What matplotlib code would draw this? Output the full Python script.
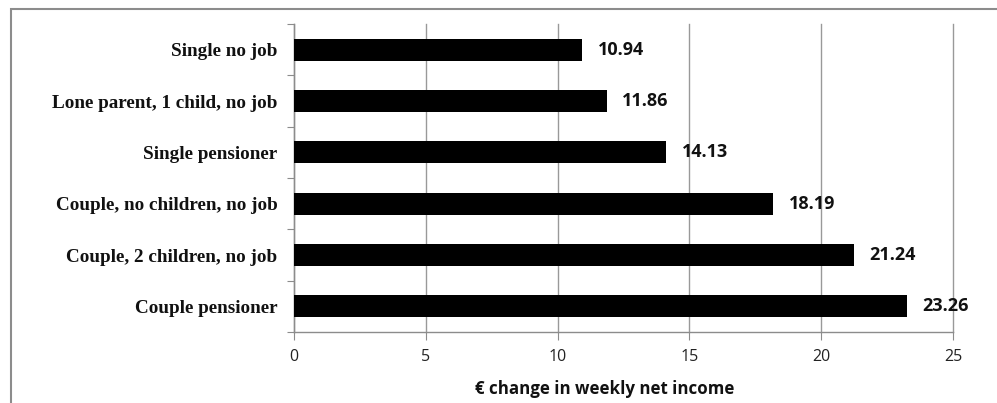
import matplotlib
matplotlib.use("Agg")
import matplotlib.pyplot as plt
from matplotlib.patches import Rectangle

categories = ["Single no job", "Lone parent, 1 child, no job", "Single pensioner",
              "Couple, no children, no job", "Couple, 2 children, no job", "Couple pensioner"]
values = [10.94, 11.86, 14.13, 18.19, 21.24, 23.26]
xticks = [0, 5, 10, 15, 20, 25]
xlabel = "€ change in weekly net income"

fig = plt.figure(figsize=(9.97, 4.03), dpi=100)
ax = fig.add_axes([294/997, 1-332/403, (953-294)/997, (332-24)/403])

# outer border
fig.patches.append(Rectangle((10.5/997, -0.05), 1.1, 1 - 8.5/403 + 0.05,
                             transform=fig.transFigure, fill=False,
                             edgecolor="#8c8c8c", linewidth=1.5, zorder=0))

n = len(categories)
ypos = list(range(n))
ax.barh(ypos, values, height=0.43, color="black", zorder=3)
ax.set_ylim(n - 0.5, -0.5)
ax.set_xlim(0, 25)

ax.set_yticks([i - 0.5 for i in range(n + 1)], minor=False)
ax.set_yticklabels([])
ax.set_yticks(ypos, minor=True)
ax.set_yticklabels(categories, minor=True, fontfamily="Liberation Serif",
                   fontweight="bold", fontsize=13.8, color="#111111")
ax.tick_params(axis="y", which="minor", length=0, pad=12)
ax.tick_params(axis="y", which="major", length=5, color="#8c8c8c", direction="out")

ax.set_xticks(xticks)
ax.set_xticklabels([str(t) for t in xticks], fontfamily="Open Sans", fontsize=11.5,
                   color="#222222")
ax.tick_params(axis="x", length=6, color="#8c8c8c", direction="out", pad=6)
ax.grid(axis="x", color="#999999", linewidth=1.0, zorder=0)
for gl in ax.get_xgridlines():
    gl.set_clip_on(False)
ax.set_axisbelow(True)

for s in ["top", "right"]:
    ax.spines[s].set_visible(False)
for s in ["left", "bottom"]:
    ax.spines[s].set_color("#8c8c8c")
    ax.spines[s].set_linewidth(1.0)

for y, v in zip(ypos, values):
    ax.annotate(f"{v:.2f}", xy=(v, y), xytext=(11, 0), textcoords="offset points",
                va="center", ha="left", fontfamily="Open Sans", fontweight="bold",
                fontsize=13, color="#111111", zorder=4)

ax.set_xlabel(xlabel, fontfamily="Open Sans", fontweight="bold", fontsize=12.2,
              labelpad=10, color="#111111")
ax.xaxis.set_label_coords((605 - 294) / 659, -0.155)

fig.savefig("out.png", dpi=100)
